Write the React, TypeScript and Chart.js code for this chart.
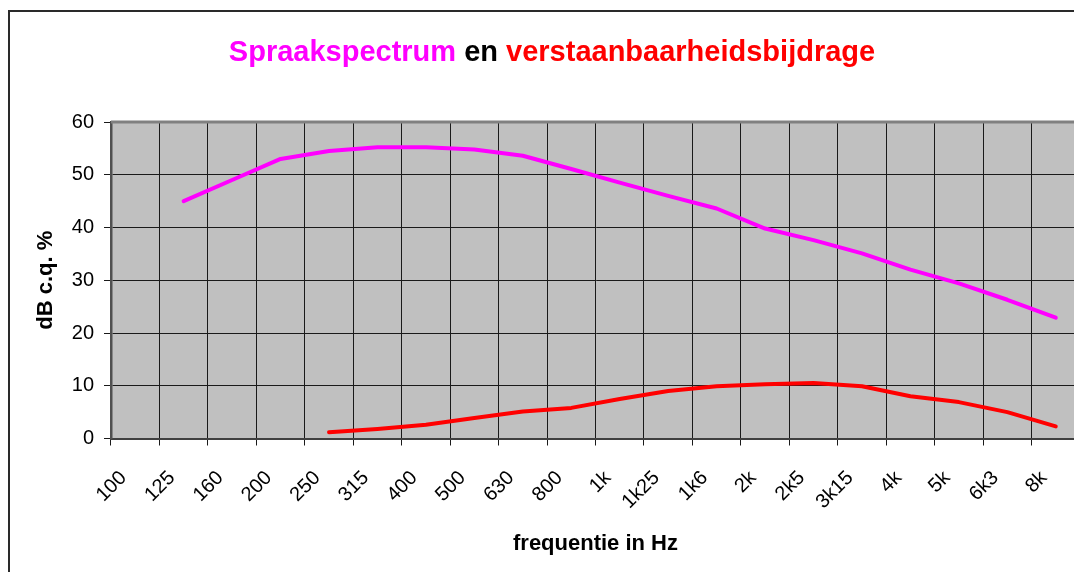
import React, { useEffect, useRef } from 'react';
import { Chart, registerables } from 'chart.js';

Chart.register(...registerables);

const categories = ['100', '125', '160', '200', '250', '315', '400', '500', '630', '800', '1k', '1k25', '1k6', '2k', '2k5', '3k15', '4k', '5k', '6k3', '8k'];
const spraakspectrum: (number | null)[] = [null, 45, 49, 53, 54.5, 55.2, 55.2, 54.8, 53.6, 51.1, 48.5, 46.0, 43.6, 39.8, 37.6, 35.1, 32.0, 29.4, 26.3, 22.9];
const bijdrage: (number | null)[] = [null, null, null, null, 1.2, 1.8, 2.6, 3.9, 5.1, 5.8, 7.5, 9.0, 9.9, 10.3, 10.5, 9.9, 8.0, 6.9, 5.0, 2.3];
const yTicks = [0, 10, 20, 30, 40, 50, 60];
const titleParts = [
  { text: 'Spraakspectrum', color: '#FF00FF' },
  { text: ' en ', color: '#000000' },
  { text: 'verstaanbaarheidsbijdrage', color: '#FF0000' },
];

const FONT = '"Liberation Sans", Arial, sans-serif';

const decor = {
  id: 'decor',
  beforeDraw(chart: any) {
    const { ctx, chartArea: a } = chart;
    ctx.save();
    ctx.fillStyle = '#ffffff';
    ctx.fillRect(0, 0, chart.width, chart.height);
    ctx.fillStyle = '#C0C0C0';
    ctx.fillRect(a.left, a.top, a.right - a.left, a.bottom - a.top);
    ctx.strokeStyle = '#2a2a2a';
    ctx.lineWidth = 2;
    ctx.strokeRect(1, 3, chart.width + 200, chart.height + 200);
    ctx.restore();
  },
  beforeDatasetsDraw(chart: any) {
    const { ctx, chartArea: a } = chart;
    ctx.save();
    ctx.strokeStyle = '#808080';
    ctx.lineWidth = 3;
    ctx.beginPath();
    ctx.moveTo(a.left, a.top);
    ctx.lineTo(a.right, a.top);
    ctx.lineTo(a.right, a.bottom);
    ctx.stroke();
    ctx.restore();
  },
  afterDraw(chart: any) {
    const { ctx } = chart;
    ctx.save();
    ctx.font = 'bold 29px ' + FONT;
    ctx.textBaseline = 'alphabetic';
    ctx.textAlign = 'left';
    const widths = titleParts.map((p) => ctx.measureText(p.text).width);
    const total = widths.reduce((s, w) => s + w, 0);
    let x = 544 - total / 2;
    const y = 53;
    titleParts.forEach((p, i) => {
      ctx.fillStyle = p.color;
      ctx.fillText(p.text, x, y);
      x += widths[i];
    });
    ctx.restore();
  },
};

export default function App() {
  const ref = useRef<HTMLCanvasElement | null>(null);

  useEffect(() => {
    document.body.style.overflow = 'hidden';
    if (!ref.current) return;
    const chart = new Chart(ref.current, {
      type: 'line',
      data: {
        labels: categories,
        datasets: [
          {
            label: 'Spraakspectrum',
            data: spraakspectrum,
            borderColor: '#FF00FF',
            backgroundColor: '#FF00FF',
            borderWidth: 4,
            pointRadius: 0,
            tension: 0,
            borderCapStyle: 'round',
            borderJoinStyle: 'round',
          },
          {
            label: 'Verstaanbaarheidsbijdrage',
            data: bijdrage,
            borderColor: '#FF0000',
            backgroundColor: '#FF0000',
            borderWidth: 4,
            pointRadius: 0,
            tension: 0,
            borderCapStyle: 'round',
            borderJoinStyle: 'round',
          },
        ],
      },
      options: {
        animation: false,
        responsive: true,
        maintainAspectRatio: false,
        layout: { padding: { top: 114, right: 2, left: 0, bottom: 0 } },
        plugins: {
          legend: { display: false },
          tooltip: { enabled: false },
          title: { display: false },
        },
        scales: {
          x: {
            type: 'category',
            offset: true,
            grid: {
              offset: true,
              color: '#1a1a1a',
              lineWidth: 1,
              tickLength: 7,
              tickColor: '#1a1a1a',
            },
            border: { display: true, color: '#404040', width: 2 },
            ticks: {
              autoSkip: false,
              minRotation: 45,
              maxRotation: 45,
              padding: 9,
              color: '#000',
              font: { family: FONT, size: 20 },
              callback: function (this: any, value: any) {
                return this.getLabelForValue(value) + '   ';
              },
            },
            title: {
              display: true,
              text: 'frequentie in Hz',
              color: '#000',
              font: { family: FONT, size: 22, weight: 'bold' },
              padding: { top: 4, bottom: 15 },
            },
            afterFit: (scale: any) => {
              scale.height = 133.5;
            },
          },
          y: {
            min: 0,
            max: 60,
            afterBuildTicks: (scale: any) => {
              scale.ticks = yTicks.map((v) => ({ value: v }));
            },
            grid: {
              color: '#1a1a1a',
              lineWidth: 1,
              tickLength: 7,
              tickColor: '#1a1a1a',
            },
            border: { display: true, color: '#505050', width: 2.5 },
            ticks: {
              padding: 10,
              color: '#000',
              font: { family: FONT, size: 20 },
            },
            title: {
              display: true,
              text: 'dB c.q. %',
              color: '#000',
              font: { family: FONT, size: 22, weight: 'bold' },
              padding: { top: 25, bottom: 0 },
            },
            afterFit: (scale: any) => {
              scale.width = 103;
            },
          },
        },
      },
      plugins: [decor],
    });
    return () => chart.destroy();
  }, []);

  return (
    <div style={{ position: 'relative', width: 1074, height: 564 }}>
      <canvas ref={ref} />
    </div>
  );
}
